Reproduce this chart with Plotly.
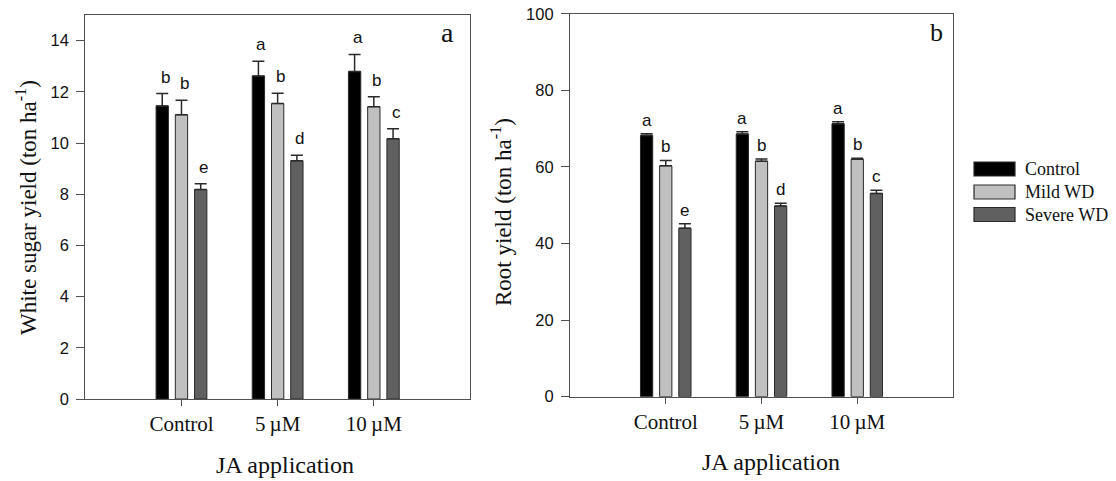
import plotly.graph_objects as go

# ---------------- data ----------------
ja_levels = ["Control", "5\u2009\u00b5M", "10\u2009\u00b5M"]
series_names = ["Control", "Mild WD", "Severe WD"]

sugar_control = [11.45, 12.62, 12.79]
sugar_mild = [11.10, 11.54, 11.42]
sugar_severe = [8.18, 9.31, 10.17]
sugar_control_err = [0.48, 0.57, 0.67]
sugar_mild_err = [0.57, 0.40, 0.39]
sugar_severe_err = [0.23, 0.21, 0.39]
sugar_control_sig = ["b", "a", "a"]
sugar_mild_sig = ["b", "b", "b"]
sugar_severe_sig = ["e", "d", "c"]

root_control = [68.2, 68.6, 71.3]
root_mild = [60.3, 61.5, 62.0]
root_severe = [44.0, 49.8, 53.1]
root_control_err = [0.5, 0.6, 0.5]
root_mild_err = [1.4, 0.6, 0.25]
root_severe_err = [1.2, 0.7, 0.8]
root_control_sig = ["a", "a", "a"]
root_mild_sig = ["b", "b", "b"]
root_severe_sig = ["e", "d", "c"]

sugar_yticks = [0, 2, 4, 6, 8, 10, 12, 14]
root_yticks = [0, 20, 40, 60, 80, 100]

# ---------------- style ----------------
colors = ["#000000", "#c0c0c0", "#606060"]
edge = "#2a2a2a"
axis_col = "#505050"
SERIF = "Liberation Serif, Times New Roman, serif"
SANS = "Liberation Sans, Arial, sans-serif"

FW, FH = 1116, 481


def sx(x):
    """window x (px) -> paper fraction"""
    return x / FW


def sy(y):
    """window y (px) -> paper fraction"""
    return 1 - y / FH


sugar_vals = [sugar_control, sugar_mild, sugar_severe]
sugar_errs = [sugar_control_err, sugar_mild_err, sugar_severe_err]
sugar_sigs = [sugar_control_sig, sugar_mild_sig, sugar_severe_sig]
root_vals = [root_control, root_mild, root_severe]
root_errs = [root_control_err, root_mild_err, root_severe_err]
root_sigs = [root_control_sig, root_mild_sig, root_severe_sig]

fig = go.Figure()

for k in range(3):
    fig.add_trace(go.Bar(
        x=ja_levels, y=sugar_vals[k], name=series_names[k],
        marker=dict(color=colors[k], line=dict(color=edge, width=1)),
        error_y=dict(type="data", symmetric=False, array=sugar_errs[k],
                     arrayminus=[0] * 3, color=edge, thickness=1.5, width=6),
        showlegend=False, xaxis="x", yaxis="y",
    ))
for k in range(3):
    fig.add_trace(go.Bar(
        x=ja_levels, y=root_vals[k], name=series_names[k],
        marker=dict(color=colors[k], line=dict(color=edge, width=1)),
        error_y=dict(type="data", symmetric=False, array=root_errs[k],
                     arrayminus=[0] * 3, color=edge, thickness=1.5, width=6),
        showlegend=False, xaxis="x2", yaxis="y2",
    ))

annotations = []
shapes = []
offsets = [-0.2, 0.0, 0.2]
for k in range(3):
    for i in range(3):
        annotations.append(dict(
            x=i + offsets[k], y=sugar_vals[k][i] + sugar_errs[k][i],
            xref="x", yref="y", text=sugar_sigs[k][i], showarrow=False,
            yanchor="bottom", xanchor="center", yshift=5, xshift=3,
            font=dict(family=SANS, size=17, color="#111")))
        annotations.append(dict(
            x=i + offsets[k], y=root_vals[k][i] + root_errs[k][i],
            xref="x2", yref="y2", text=root_sigs[k][i], showarrow=False,
            yanchor="bottom", xanchor="center", yshift=2,
            font=dict(family=SANS, size=17, color="#111")))

titles = [
    dict(x=26, y=208, text="White sugar yield (ton ha<sup>-1</sup>)", textangle=-90, size=23),
    dict(x=501, y=212, text="Root yield (ton ha<sup>-1</sup>)", textangle=-90, size=23),
    dict(x=285, y=465, text="JA application", textangle=0, size=24),
    dict(x=771, y=462, text="JA application", textangle=0, size=24),
    dict(x=447, y=33, text="a", textangle=0, size=28),
    dict(x=936, y=33, text="b", textangle=0, size=26),
]
for t in titles:
    annotations.append(dict(
        x=sx(t["x"]), y=sy(t["y"]), xref="paper", yref="paper", text=t["text"],
        textangle=t["textangle"], showarrow=False, xanchor="center", yanchor="middle",
        font=dict(family=SERIF, size=t["size"], color="#111")))

# legend (boxes + labels)
legend_rows = [169, 192, 214.5]
for k in range(3):
    c = legend_rows[k]
    shapes.append(dict(type="rect", xref="paper", yref="paper",
                       x0=sx(974), x1=sx(1015), y0=sy(c + 7), y1=sy(c - 7),
                       fillcolor=colors[k], line=dict(color=edge, width=1.2)))
    annotations.append(dict(x=sx(1023), y=sy(c), xref="paper", yref="paper",
                            text=series_names[k], showarrow=False,
                            xanchor="left", yanchor="middle",
                            font=dict(family=SERIF, size=18, color="#111")))

xax_common = dict(
    type="category", range=[-1, 3], showline=True, linecolor=axis_col, linewidth=1.2,
    mirror=True, ticks="outside", ticklen=6, tickcolor=axis_col, tickwidth=1.2,
    showgrid=False, zeroline=False, automargin=False,
    tickfont=dict(family=SERIF, size=21, color="#111"),
)
yax_common = dict(
    showline=True, linecolor=axis_col, linewidth=1.2, mirror=True,
    ticks="outside", ticklen=8, tickcolor=axis_col, tickwidth=1.2,
    showgrid=False, zeroline=False, automargin=False, ticklabelstandoff=4,
    tickfont=dict(family=SANS, size=16.5, color="#111"),
)

fig.update_layout(
    width=FW, height=FH,
    margin=dict(l=0, r=0, t=0, b=0, pad=0, autoexpand=False),
    paper_bgcolor="white", plot_bgcolor="white",
    barmode="group", bargap=0.4, bargroupgap=0.36,
    xaxis=dict(domain=[sx(85.3), sx(470)], anchor="y", **xax_common),
    yaxis=dict(domain=[sy(399), sy(15)], anchor="x", range=[0, 15],
               tickvals=sugar_yticks, **yax_common),
    xaxis2=dict(domain=[sx(570), sx(953)], anchor="y2", **xax_common),
    yaxis2=dict(domain=[sy(396.7), sy(13.8)], anchor="x2", range=[0, 100],
                tickvals=root_yticks, **yax_common),
    annotations=annotations,
    shapes=shapes,
    showlegend=False,
)

# remove the browser's default page margin so the figure fills the window exactly
fig.write_html("out.html", config={"displayModeBar": False},
               post_script="document.body.style.margin='0px';")
